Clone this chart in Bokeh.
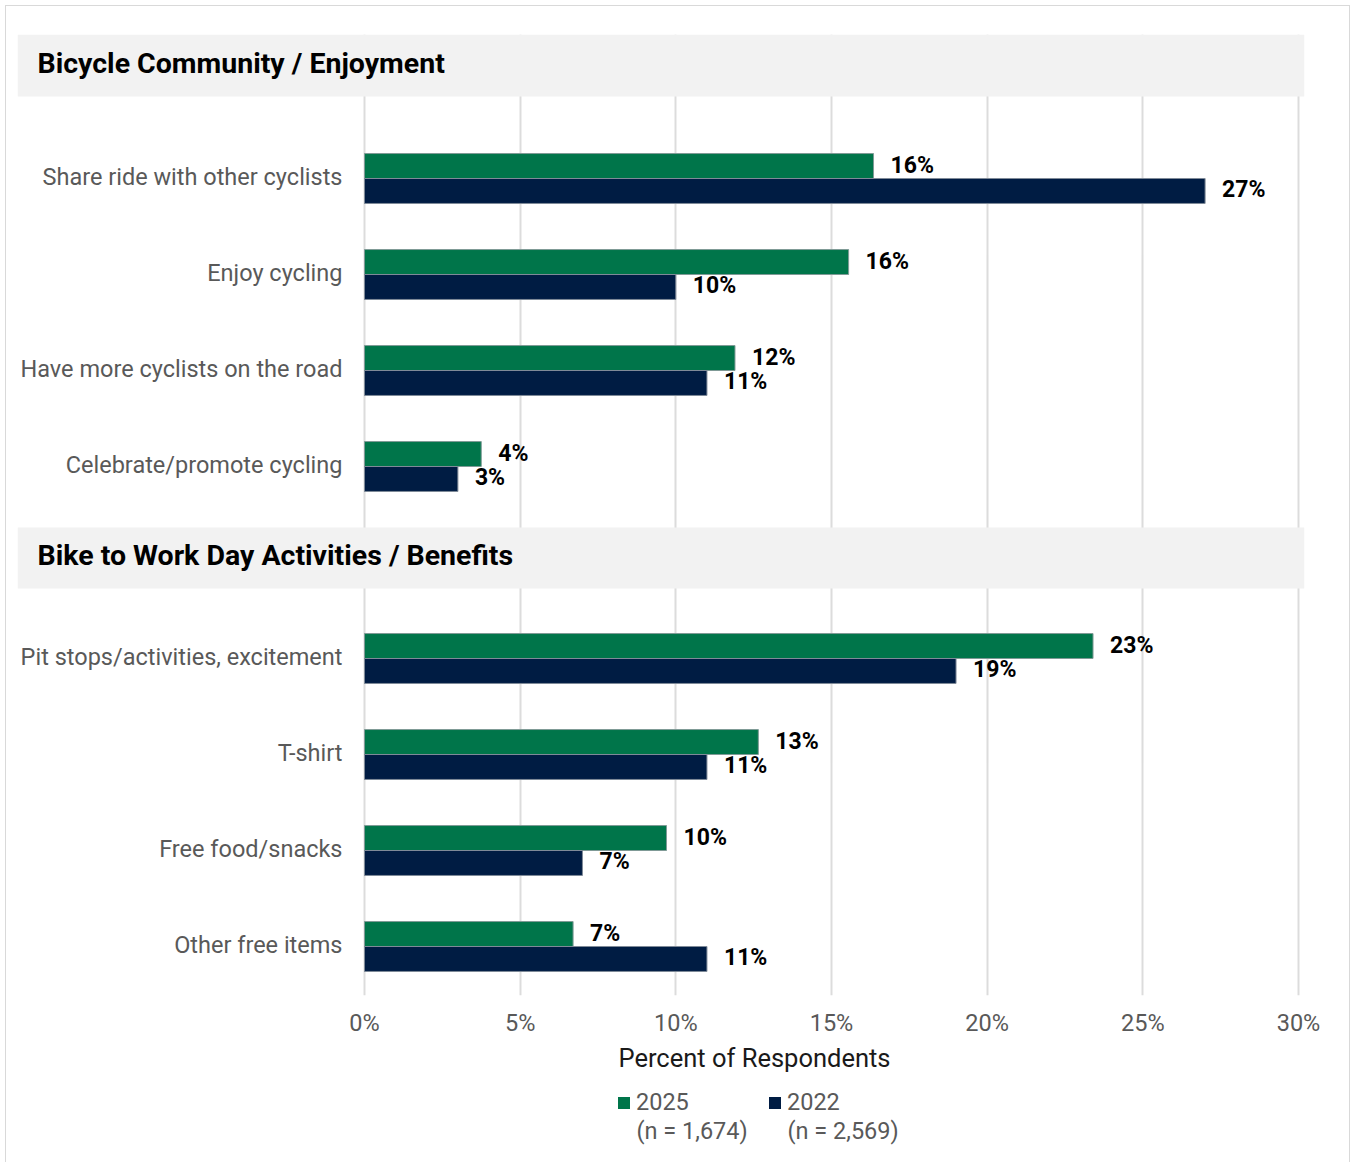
from bokeh.plotting import figure
from bokeh.layouts import column
from bokeh.models import (Range1d, FixedTicker, Label, Legend, LegendItem,
                          ColumnDataSource, PrintfTickFormatter)
from bokeh.core.properties import value
from bokeh.embed import file_html
from bokeh.resources import INLINE

# ---------------- data ----------------
section_titles = ["Bicycle Community / Enjoyment", "Bike to Work Day Activities / Benefits"]
cats_1 = ["Share ride with other cyclists", "Enjoy cycling",
          "Have more cyclists on the road", "Celebrate/promote cycling"]
v2025_1 = [16.35, 15.55, 11.9, 3.75]
v2022_1 = [27.0, 10.0, 11.0, 3.0]
cats_2 = ["Pit stops/activities, excitement", "T-shirt", "Free food/snacks", "Other free items"]
v2025_2 = [23.4, 12.65, 9.7, 6.7]
v2022_2 = [19.0, 11.0, 7.0, 11.0]
series_names = ["2025", "2022"]
series_n = ["(n = 1,674)", "(n = 2,569)"]
ticks = [0, 5, 10, 15, 20, 25, 30]

# ---------------- styles / layout ----------------
GREEN = "#00754A"
NAVY = "#001C43"
GRAY_TXT = "#595959"
FONT = "Roboto"

W = 1343
PAGE_X0, PAGE_Y0 = 6, 6
ML, MT, MR = 11, 28, 45
FRAME_W = W - ML - MR          # 1287
FRAME_TOP = PAGE_Y0 + MT       # 34
FRAME_BOT = 995
FRAME_H = FRAME_BOT - FRAME_TOP
SPLIT = 1040                   # page y where the bottom strip starts
MB_A = SPLIT - FRAME_BOT
H_B = 1162 - SPLIT

PX_PER_PCT = (1298 - 364) / 30.0
ROW = 96.0

def px_to_x(px):
    return (px - 364) / PX_PER_PCT

def px_to_y(py):
    return (py - FRAME_TOP) / ROW

x_start = px_to_x(PAGE_X0 + ML)
x_end = px_to_x(PAGE_X0 + ML + FRAME_W)
xr = Range1d(x_start, x_end)

sec_first = [1.5, 6.5]
sec_header = [(0.0, 0.646), (5.135, 5.771)]
BAR_H = 0.26

p = figure(frame_width=FRAME_W, frame_height=FRAME_H, output_backend="svg",
           toolbar_location=None, x_range=xr,
           y_range=Range1d(px_to_y(FRAME_BOT), 0.0),
           y_axis_location=None, min_border_left=ML, min_border_right=MR,
           min_border_top=MT, min_border_bottom=MB_A)
p.outline_line_color = None
p.background_fill_color = "white"
p.border_fill_color = "white"
p.ygrid.visible = False
p.xgrid.ticker = FixedTicker(ticks=ticks)
p.xgrid.grid_line_color = "#dcdcdc"
p.xgrid.grid_line_width = 2

ax = p.xaxis[0]
ax.ticker = FixedTicker(ticks=ticks)
ax.formatter = PrintfTickFormatter(format="%d%%")
ax.axis_line_color = None
ax.major_tick_line_color = None
ax.minor_tick_line_color = None
ax.major_tick_out = 0
ax.major_tick_in = 0
ax.minor_tick_out = 0
ax.minor_tick_in = 0
ax.major_label_text_font = FONT
ax.major_label_text_font_size = "23.5px"
ax.major_label_text_color = GRAY_TXT
ax.major_label_standoff = 13

for s, (cats, a, b) in enumerate([(cats_1, v2025_1, v2022_1), (cats_2, v2025_2, v2022_2)]):
    top, bot = sec_header[s]
    p.quad(left=[x_start], right=[x_end], top=[top], bottom=[bot],
           fill_color="#f2f2f2", line_color=None)
    p.text(x=[x_start], y=[(top + bot) / 2], text=[section_titles[s]], x_offset=20, y_offset=-2,
           text_font=value(FONT), text_font_style="bold", text_font_size="28.5px",
           text_color="black", text_align="left", text_baseline="middle")
    ys = [sec_first[s] + i for i in range(len(cats))]
    src = ColumnDataSource(dict(cat=cats, y=ys,
                                y25=[y - BAR_H / 2 for y in ys],
                                y22=[y + BAR_H / 2 for y in ys],
                                v25=a, v22=b,
                                l25=[f"{round(v)}%" for v in a],
                                l22=[f"{round(v)}%" for v in b]))
    p.hbar(y="y25", left=0, right="v25", height=BAR_H, source=src,
           fill_color=GREEN, line_color="#7f9a96", line_width=1)
    p.hbar(y="y22", left=0, right="v22", height=BAR_H, source=src,
           fill_color=NAVY, line_color="#7f8a98", line_width=1)
    p.text(x=0, y="y", text="cat", source=src, x_offset=-22, y_offset=-2,
           text_font=value(FONT), text_font_size="23.5px", text_color=GRAY_TXT,
           text_align="right", text_baseline="middle")
    p.text(x="v25", y="y25", text="l25", source=src, x_offset=17, y_offset=-1,
           text_font=value(FONT), text_font_style="bold", text_font_size="23px",
           text_color="black", text_align="left", text_baseline="middle")
    p.text(x="v22", y="y22", text="l22", source=src, x_offset=17, y_offset=-1,
           text_font=value(FONT), text_font_style="bold", text_font_size="23px",
           text_color="black", text_align="left", text_baseline="middle")

# ---------- bottom strip: axis title + legend ----------
q = figure(frame_width=FRAME_W, frame_height=H_B, output_backend="svg",
           toolbar_location=None, x_range=xr,
           y_range=Range1d(px_to_y(SPLIT + H_B), px_to_y(SPLIT)),
           x_axis_location=None, y_axis_location=None,
           min_border_left=ML, min_border_right=MR,
           min_border_top=0, min_border_bottom=0)
q.outline_line_color = None
q.grid.visible = False
q.border_fill_color = "white"
q.background_fill_color = "white"

q.add_layout(Label(x=px_to_x(754), y=px_to_y(1057), text="Percent of Respondents",
                   text_font=FONT, text_font_size="25.5px", text_color="#1a1a1a",
                   text_align="center", text_baseline="middle"))

colors = [GREEN, NAVY]
leg_px = [618, 769]
for i, name in enumerate(series_names):
    r = q.hbar(y=[px_to_y(2000)], left=[x_start - 5], right=[x_start - 4],
               height=BAR_H, fill_color=colors[i], line_color=None)
    lg = Legend(items=[LegendItem(label=name, renderers=[r])],
                location=(leg_px[i] - 2 - (PAGE_X0 + ML), (SPLIT + H_B) - 1116),
                padding=0, margin=0, border_line_color=None, background_fill_alpha=0,
                glyph_width=15, glyph_height=15, label_standoff=5,
                label_text_font=FONT, label_text_font_size="23.5px",
                label_text_color=GRAY_TXT, label_height=26)
    q.add_layout(lg)
    q.add_layout(Label(x=px_to_x(leg_px[i] + 18), y=px_to_y(1130), text=series_n[i],
                       text_font=FONT, text_font_size="23.5px", text_color=GRAY_TXT,
                       text_align="left", text_baseline="middle"))

layout = column(p, q, spacing=0, margin=(5, 0, 0, 5),
                styles={"border": "1px solid #d9d9d9"})
open("out.html", "w").write(file_html(layout, INLINE))
